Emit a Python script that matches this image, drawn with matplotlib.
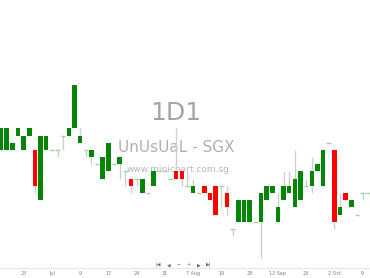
import matplotlib
matplotlib.use('Agg')
import matplotlib.pyplot as plt
import numpy as np

# daily candles, one per trading day (prices in SGD)
opens = [0.070, 0.070, 0.070, 0.072, 0.070, 0.072, 0.070, 0.063, 0.070, 0.070,
         0.070, 0.072, 0.072, 0.073, 0.071, 0.070, 0.069, 0.068, 0.066, 0.067,
         0.068, 0.068, 0.067, 0.066, 0.066, 0.064, 0.064, 0.065, 0.067, 0.067,
         0.066, 0.067, 0.067, 0.065, 0.064, 0.064, 0.065, 0.064, 0.065, 0.065,
         0.064, 0.059, 0.060, 0.060, 0.060, 0.060, 0.060, 0.063, 0.064, 0.060,
         0.063, 0.064, 0.062, 0.063, 0.065, 0.065, 0.067, 0.065, 0.071, 0.070,
         0.061, 0.064, 0.062, 0.061, 0.064, 0.064]
closes = [0.073, 0.073, 0.071, 0.073, 0.072, 0.073, 0.065, 0.072, 0.072, 0.070,
          0.070, 0.072, 0.073, 0.079, 0.072, 0.070, 0.070, 0.068, 0.069, 0.071,
          0.068, 0.069, 0.067, 0.065, 0.066, 0.066, 0.064, 0.067, 0.067, 0.067,
          0.066, 0.066, 0.066, 0.065, 0.065, 0.064, 0.064, 0.063, 0.061, 0.065,
          0.062, 0.059, 0.063, 0.063, 0.063, 0.060, 0.064, 0.065, 0.065, 0.062,
          0.065, 0.065, 0.066, 0.067, 0.065, 0.067, 0.068, 0.070, 0.071, 0.060,
          0.062, 0.063, 0.063, 0.061, 0.064, 0.064]
highs = [0.073, 0.073, 0.071, 0.073, 0.072, 0.073, 0.070, 0.072, 0.072, 0.070,
         0.070, 0.072, 0.073, 0.079, 0.073, 0.070, 0.070, 0.068, 0.069, 0.071,
         0.068, 0.069, 0.067, 0.066, 0.066, 0.066, 0.064, 0.067, 0.067, 0.067,
         0.066, 0.073, 0.067, 0.067, 0.066, 0.064, 0.065, 0.064, 0.065, 0.065,
         0.065, 0.059, 0.063, 0.063, 0.063, 0.060, 0.064, 0.065, 0.065, 0.064,
         0.067, 0.067, 0.070, 0.067, 0.066, 0.069, 0.068, 0.070, 0.071, 0.070,
         0.064, 0.064, 0.063, 0.061, 0.064, 0.064]
lows = [0.070, 0.070, 0.070, 0.072, 0.070, 0.072, 0.064, 0.063, 0.070, 0.070,
        0.069, 0.070, 0.072, 0.073, 0.071, 0.069, 0.068, 0.068, 0.066, 0.067,
        0.068, 0.066, 0.065, 0.064, 0.065, 0.064, 0.064, 0.065, 0.067, 0.067,
        0.066, 0.066, 0.065, 0.065, 0.064, 0.064, 0.064, 0.063, 0.061, 0.062,
        0.061, 0.058, 0.060, 0.060, 0.060, 0.060, 0.055, 0.063, 0.064, 0.060,
        0.063, 0.064, 0.062, 0.063, 0.065, 0.064, 0.067, 0.065, 0.071, 0.059,
        0.061, 0.063, 0.062, 0.061, 0.063, 0.064]

tick_pos = [4, 9, 14, 19, 24, 29, 34, 39, 44, 49, 54, 59, 64]
tick_labels = ['23', 'Jul', '9', '17', '24', '31', '7 Aug', '19', '28',
               '12 Sep', '23', '2 Oct', '9']

GREEN = '#058505'
RED = '#ff0000'
DOJI = '#9fd49f'
WICK = '#cfcfcf'

fig = plt.figure(figsize=(3.7, 2.78), dpi=100)
ax = fig.add_axes([0, 10/278, 1, 268/278])

o = np.array(opens); c = np.array(closes)
h = np.array(highs); l = np.array(lows)
x = np.arange(len(o))

# watermark sits behind the candles
wx = 176/370
ax.text(wx, 1 - 113/278, '1D1', ha='center', va='center', fontsize=18,
        color='#a4a4a4', transform=fig.transFigure, zorder=0)
ax.text(wx, 1 - 148/278, 'UnUsUaL - SGX', ha='center', va='center', fontsize=11,
        color='#b0b0b0', transform=fig.transFigure, zorder=0)
ax.text(wx + 2/370, 1 - 170/278, 'www.minichart.com.sg', ha='center', va='center',
        fontsize=6.5, color='#b8b8b8', transform=fig.transFigure, zorder=0)

# wicks
ax.vlines(x, l, h, color=WICK, lw=1, zorder=1)

up = c > o
dn = c < o
flat = c == o
ax.bar(x[up], (c - o)[up], bottom=o[up], width=0.8, color=GREEN, zorder=2)
ax.bar(x[dn], (o - c)[dn], bottom=c[dn], width=0.8, color=RED, zorder=2)
ax.hlines(o[flat], x[flat] - 0.4, x[flat] + 0.4, color=DOJI, lw=1, zorder=2)

ax.set_xlim(-0.18, 65.3)
ax.set_ylim(0.05354, 0.09092)

ax.set_xticks(tick_pos)
ax.set_xticklabels(tick_labels, fontsize=3.5, color='#808080')
ax.tick_params(axis='x', length=0, pad=2)
ax.set_yticks([])
for s in ['top', 'left', 'right']:
    ax.spines[s].set_visible(False)
ax.spines['bottom'].set_color('#e6e6e6')
ax.spines['bottom'].set_linewidth(0.8)

# navigation buttons
for bx, sym in zip([158, 169, 179, 189, 199, 209], ['|◀', '◀', '−', '+', '▶', '▶|']):
    fig.text(bx/370, 1 - 264.5/278, sym, ha='center', va='center', fontsize=3.5, color='#707070')

fig.savefig('out.png', dpi=100)
